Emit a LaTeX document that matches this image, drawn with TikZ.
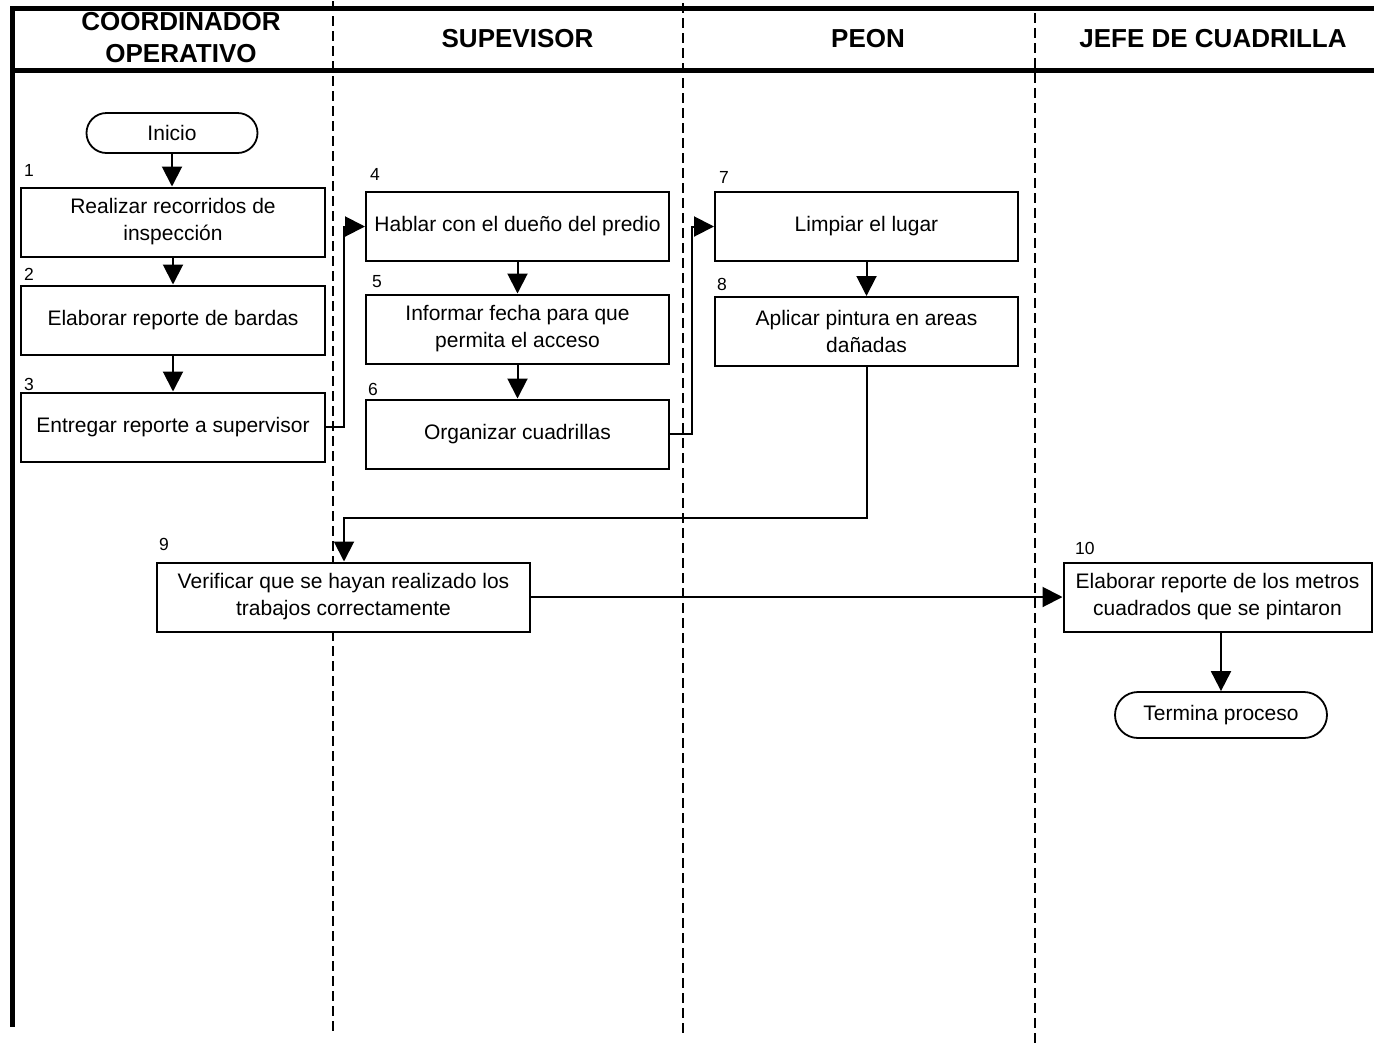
\documentclass[tikz,border=0pt]{standalone}
\usepackage{fontspec}
\setmainfont{Liberation Sans}
\usetikzlibrary{arrows.meta,calc,shapes.misc}
\begin{document}
\begin{tikzpicture}[x=1pt,y=-1pt,
  box/.style={draw,fill=white,line width=2pt,minimum width=303pt,minimum height=69pt,inner sep=0pt,align=center,font=\fontsize{21}{27}\selectfont},
  term/.style={draw,fill=white,line width=1.8pt,shape=rounded rectangle,inner sep=0pt,font=\fontsize{21}{27}\selectfont},
  num/.style={anchor=base west,inner sep=0pt,font=\fontsize{17.5}{20}\selectfont},
  hdr/.style={inner sep=0pt,align=center,font=\bfseries\fontsize{26}{32}\selectfont},
  arr/.style={line width=2pt,-{Triangle[length=20pt,width=20pt]}},
  lane/.style={line width=1.5pt,dash pattern=on 10pt off 5pt},
  frame/.style={line width=5pt}]
\useasboundingbox (0,0) rectangle (1374,1045);
% frame
\draw[frame] (10,8.5) -- (1374,8.5);
\draw[frame] (10,70) -- (1374,70);
\draw[frame] (12.5,6) -- (12.5,1027);
\draw[lane] (333,1) -- (333,1033);
\draw[lane] (683,3) -- (683,1036);
\draw[lane] (1035,13) -- (1035,1045);
% headers
\node[hdr] (h1) at (181,37.8) {COORDINADOR\\OPERATIVO};
\node[hdr] (h2) at (517.5,39) {SUPEVISOR};
\node[hdr] (h3) at (868,39) {PEON};
\node[hdr] (h4) at (1213,39) {JEFE DE CUADRILLA};
% connectors
\node[term,minimum width=171pt,minimum height=40pt] (ini) at (172,133) {Inicio};
\node[box,minimum width=304pt] (b1) at (173,222) {Realizar recorridos de\\inspección};
\node[box,minimum width=304pt] (b2) at (173,320) {Elaborar reporte de bardas};
\node[box,minimum width=304pt] (b3) at (173,427) {Entregar reporte a supervisor};
\node[box] (b4) at (517.5,226.5) {Hablar con el dueño del predio};
\node[box] (b5) at (517.5,329) {Informar fecha para que\\permita el acceso};
\node[box] (b6) at (517.5,434) {Organizar cuadrillas};
\node[box] (b7) at (866.5,226.5) {Limpiar el lugar};
\node[box] (b8) at (866.5,331.5) {Aplicar pintura en areas\\dañadas};
\node[box,minimum width=373pt] (b9) at (343.5,597) {Verificar que se hayan realizado los\\trabajos correctamente};
\node[box,minimum width=308pt] (b10) at (1217.5,597) {Elaborar reporte de los metros\\cuadrados que se pintaron};
\node[term,minimum width=212pt,minimum height=46pt] (fin) at (1221,715) {Termina proceso};
% numbers
\node[num] (n1) at (24,176) {1};
\node[num] (n2) at (24,280) {2};
\node[num] (n3) at (24,390) {3};
\node[num] (n4) at (370,180) {4};
\node[num] (n5) at (372,287) {5};
\node[num] (n6) at (368,395) {6};
\node[num] (n7) at (719,183) {7};
\node[num] (n8) at (717,290) {8};
\node[num] (n9) at (159,550) {9};
\node[num] (n10) at (1075,554) {10};
% connectors
\draw[arr] (ini.south) -- (ini.south |- b1.north);
\draw[arr] (b1.south) -- (b2.north);
\draw[arr] (b2.south) -- (b3.north);
\draw[arr] (b3.east) -- ++(18,0) |- (b4.west);
\draw[arr] (b4.south) -- (b5.north);
\draw[arr] (b5.south) -- (b6.north);
\draw[arr] (b6.east) -- ++(22,0) |- (b7.west);
\draw[arr] (b7.south) -- (b8.north);
\coordinate (c9) at (344,518);
\draw[arr] (b8.south) -- (b8.south |- c9) -- (c9) -- (c9 |- b9.north);
\draw[arr] (b9.east) -- (b10.west);
\draw[arr] (b10.south -| fin.north) -- (fin.north);
\end{tikzpicture}
\end{document}
